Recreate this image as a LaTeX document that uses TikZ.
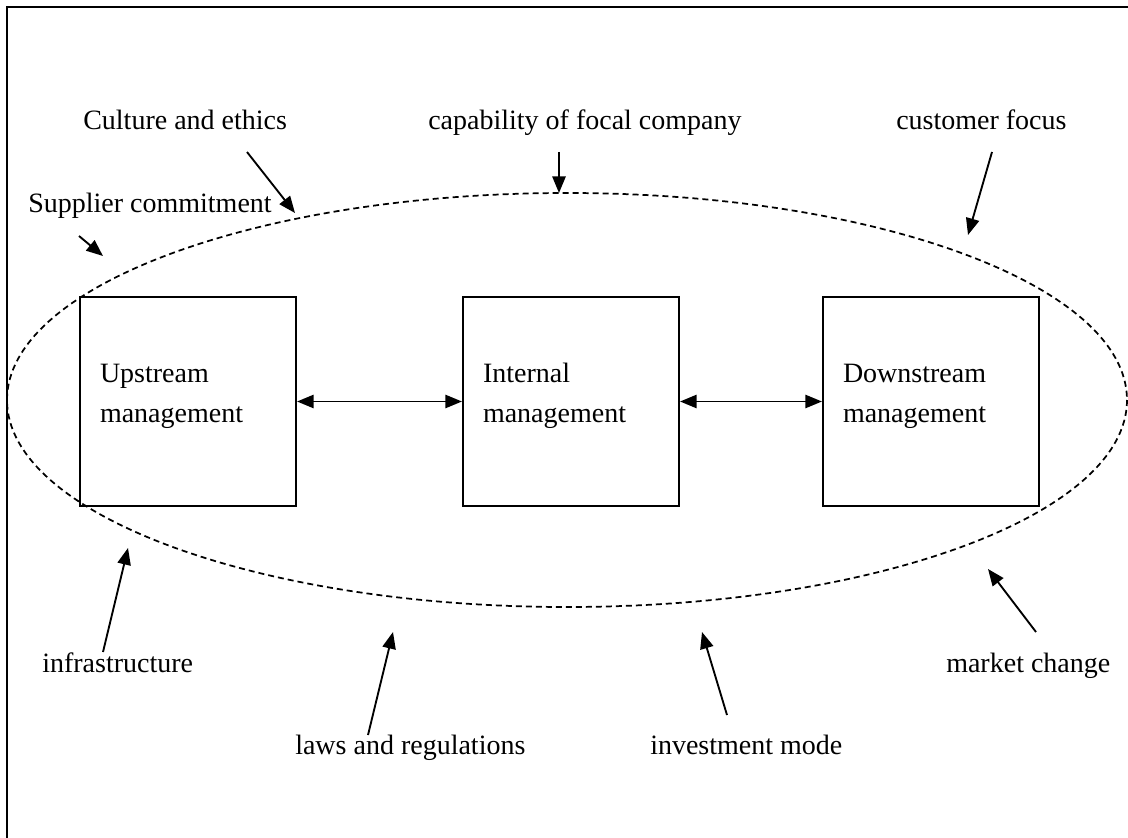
\documentclass[tikz,border=0pt]{standalone}
\usepackage{fontspec}
\setmainfont{Liberation Serif}
\usepackage{xcolor}
\usepackage{tikz}
\usetikzlibrary{arrows.meta}

\begin{document}
\begin{tikzpicture}[x=0.75pt,y=0.75pt,yscale=-1,xscale=1,
  txt/.style={inner sep=0pt,anchor=base west,font=\fontsize{21}{30}\selectfont},
  box/.style={draw,line width=1.6pt,minimum width=162pt,minimum height=156.75pt,
    text width=132pt,inner xsep=15pt,align=left,font=\fontsize{21}{30}\selectfont,
    execute at end node={\rule[-13pt]{0pt}{13pt}}},
  link/.style={line width=1.4pt,{Triangle[length=12.5pt,width=10pt]}-{Triangle[length=12.5pt,width=10pt]}},
  pointer/.style={line width=1.4pt,-{Triangle[length=12.5pt,width=10pt]}}]
\useasboundingbox (0,0) rectangle (1128,838);
\clip (0,0) rectangle (1128,838);

%Frame
\draw [line width=1.6pt] (7,7) rectangle (1150,860);
%Ellipse (dashed)
\draw [line width=1.3pt,dash pattern=on 4.5pt off 3pt] (567,400) ellipse [x radius=560, y radius=207];

% Boxes
\node [box] (up) at (188,401.5) {Upstream\\management};
\node [box] (int) at (571,401.5) {Internal\\management};
\node [box] (down) at (931,401.5) {Downstream\\management};

%Double Arrows
\draw [link] (up) -- (int);
\draw [link] (int) -- (down);

% Text Node
\node [txt] (culture) at (83,130) {Culture and ethics};
% Text Node
\node [txt] (supplier) at (28,213) {Supplier commitment};
% Text Node
\node [txt] (capability) at (428,130) {capability of focal company};
% Text Node
\node [txt] (customer) at (896,130) {customer focus};
% Text Node
\node [txt] (infra) at (42,672) {infrastructure};
% Text Node
\node [txt] (laws) at (295,754) {laws and regulations};
% Text Node
\node [txt] (invest) at (650,754) {investment mode};
% Text Node
\node [txt] (market) at (946,672) {market change};

%Arrow ends
\coordinate (culture-s) at (247,152);   \coordinate (culture-e) at (295,213);
\coordinate (supplier-s) at (79,236);   \coordinate (supplier-e) at (103,256);
\coordinate (capability-s) at (559,152); \coordinate (capability-e) at (559,193);
\coordinate (customer-s) at (992,152);  \coordinate (customer-e) at (968,235);
\coordinate (infra-s) at (103,652);     \coordinate (infra-e) at (128,548);
\coordinate (laws-s) at (368,735);      \coordinate (laws-e) at (393,632);
\coordinate (invest-s) at (727,715);    \coordinate (invest-e) at (702,632);
\coordinate (market-s) at (1036,632);   \coordinate (market-e) at (988,569);

%Straight Lines
\draw [pointer] (culture-s) -- (culture-e);
\draw [pointer] (supplier-s) -- (supplier-e);
\draw [pointer] (capability-s) -- (capability-e);
\draw [pointer] (customer-s) -- (customer-e);
\draw [pointer] (infra-s) -- (infra-e);
\draw [pointer] (laws-s) -- (laws-e);
\draw [pointer] (invest-s) -- (invest-e);
\draw [pointer] (market-s) -- (market-e);

\end{tikzpicture}
\end{document}
